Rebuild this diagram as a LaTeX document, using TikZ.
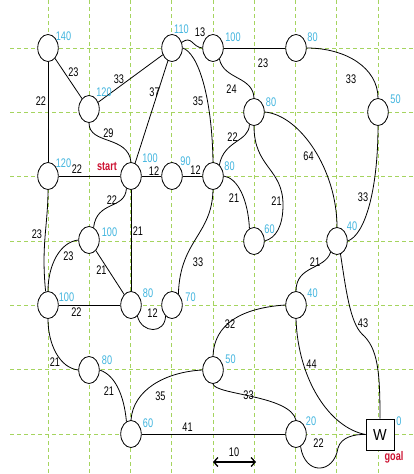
\documentclass[tikz,border=0pt]{standalone}
\usepackage{fontspec}
\setmainfont{Liberation Sans}[FakeStretch=0.73]
\newfontfamily\wfont{Liberation Sans}[FakeStretch=0.9]
\usetikzlibrary{shapes.geometric,arrows.meta}
\definecolor{gridgreen}{RGB}{165,212,95}
\definecolor{valcyan}{RGB}{64,180,222}
\definecolor{markred}{RGB}{204,16,48}
\begin{document}
\begin{tikzpicture}[x=1pt,y=-1pt,
  gridline/.style={draw=gridgreen, line width=0.9pt, dash pattern=on 4pt off 3pt},
  vtx/.style={draw, ellipse, minimum width=20.5pt, minimum height=27pt, inner sep=0pt, fill=white, line width=0.8pt},
  goalbox/.style={draw, rectangle, minimum width=28pt, minimum height=31pt, inner sep=0pt, fill=white, line width=0.8pt, font=\wfont\fontsize{16}{18}\selectfont},
  edge/.style={draw, line width=0.8pt},
  wlbl/.style={font=\fontsize{12.5}{15}\selectfont, inner sep=0pt, text=black},
  vlbl/.style={font=\fontsize{12.5}{15}\selectfont, inner sep=0pt, text=valcyan},
  rlbl/.style={font=\bfseries\fontsize{12.5}{15}\selectfont, inner sep=0pt, text=markred},
  scalebar/.style={draw, line width=1.3pt, {Straight Barb[length=4pt,width=9pt]}-{Straight Barb[length=4pt,width=9pt]}}
]
\useasboundingbox (0,0) rectangle (414,474);
% grid
\foreach \i in {0,...,8} \draw[gridline] ({48+41.25*\i},0) -- ({48+41.25*\i},474);
\foreach \j in {0,...,6} \draw[gridline] (10,{48+64.33*\j}) -- (414,{48+64.33*\j});

% vertices
\node[vtx] (n140) at (48,48) {};
\node[vtx] (n120u) at (89,109) {};
\node[vtx] (n110) at (172,48) {};
\node[vtx] (n100t) at (213,48) {};
\node[vtx] (n80t) at (296,48) {};
\node[vtx] (n50) at (378,112) {};
\node[vtx] (n80a) at (254,112) {};
\node[vtx] (n120l) at (48,176) {};
\node[vtx] (start) at (131,176) {};
\node[vtx] (n90) at (172,176) {};
\node[vtx] (n80r) at (213,176) {};
\node[vtx] (n60) at (254,241) {};
\node[vtx] (n40a) at (337,241) {};
\node[vtx] (n100m) at (89,240) {};
\node[vtx] (n100l) at (48,305) {};
\node[vtx] (n80b) at (131,305) {};
\node[vtx] (n70) at (172,305) {};
\node[vtx] (n40b) at (296,305) {};
\node[vtx] (n80c) at (89,370) {};
\node[vtx] (n50b) at (213,370) {};
\node[vtx] (n60b) at (131,434) {};
\node[vtx] (n20) at (296,434) {};
\node[goalbox] (W) at (380,434.5) {W};

% straight edges
\draw[edge] (n140) -- (n120l);
\draw[edge] (n140) -- (n120u);
\draw[edge] (n120u) -- (n110);
\draw[edge] (n110) -- (start);
\draw[edge] (n100t) -- (n80t);
\draw[edge] (n120l) -- (start);
\draw[edge] (start) -- (n90);
\draw[edge] (n90) -- (n80r);
\draw[edge] (start) -- (n80b);
\draw[edge] (n100m) -- (n80b);
\draw[edge] (n100l) -- (n80b);
\draw[edge] (n60b) -- (n20);

% curved edges
\draw[edge] (n120u.south) .. controls (89,145) and (128,135) .. (start.north);
\draw[edge] (n110.east) .. controls (198,53) and (212,96) .. (n80r.north);
\draw[edge] (n110.30) .. controls (192,35) and (192,47) .. (n100t.west);
\draw[edge] (n100t.-60) .. controls (224,80) and (253,76) .. (n80a.north);
\draw[edge] (n80t.east) .. controls (346,48) and (378,68) .. (n50.north);
\draw[edge] (n80a.-110) .. controls (249,142) and (224,140) .. (n80r.60);
\draw[edge] (n80a.east) .. controls (300,115) and (337,170) .. (n40a.north);
\draw[edge] (n80a.south) .. controls (254,168) and (283,168) .. (283,205) .. controls (283,226) and (276,238) .. (n60.east);
\draw[edge] (n80r.east) .. controls (238,178) and (248,200) .. (n60.110);
\draw[edge] (n50.south) .. controls (378,190) and (365,235) .. (n40a.east);
\draw[edge] (n40a.-120) .. controls (325,270) and (296,265) .. (n40b.north);
\draw[edge] (n40a.-75) .. controls (346,290) and (350,322) .. (362,334) .. controls (378,348) and (380,372) .. (W.north);
\draw[edge] (n40b.west) .. controls (240,308) and (214,325) .. (n50b.north);
\draw[edge] (n40b.south) .. controls (298,380) and (330,428) .. (W.west);
\draw[edge] (n50b.west) .. controls (165,372) and (133,390) .. (n60b.north);
\draw[edge] (n50b.south) .. controls (215,395) and (290,395) .. (n20.north);
\draw[edge] (n20.-70) .. controls (305,476) and (334,474) .. (338,448) .. controls (341,437) and (355,434) .. (W.west);
\draw[edge] (start.-110) .. controls (125,210) and (97,200) .. (n100m.70);
\draw[edge] (n80r.south) .. controls (212,235) and (180,240) .. (n70.60);
\draw[edge] (n120l.south) .. controls (48,225) and (41,245) .. (n100l.100);
\draw[edge] (n100m.west) .. controls (60,242) and (48,265) .. (n100l.north);
\draw[edge] (n80b.-60) .. controls (142,334) and (165,334) .. (n70.-120);
\draw[edge] (n100l.south) .. controls (48,345) and (60,368) .. (n80c.west);
\draw[edge] (n80c.east) .. controls (115,375) and (124,395) .. (n60b.110);

% value labels
\node[vlbl] (v140) at (63.5,36.5) {140};
\node[vlbl] (v120u) at (104,92.5) {120};
\node[vlbl] (v110) at (181.5,29) {110};
\node[vlbl] (v100t) at (233,37.5) {100};
\node[vlbl] (v80t) at (312.5,37) {80};
\node[vlbl] (v50) at (395.5,99.5) {50};
\node[vlbl] (v80a) at (271,102.5) {80};
\node[vlbl] (v120l) at (63.5,163.5) {120};
\node[vlbl] (vstart) at (150,158.5) {100};
\node[vlbl] (v90) at (185.5,161) {90};
\node[vlbl] (v80r) at (229.5,166.5) {80};
\node[vlbl] (v60) at (269.5,229) {60};
\node[vlbl] (v40a) at (352,226.5) {40};
\node[vlbl] (v100m) at (109.5,232.5) {100};
\node[vlbl] (v100l) at (66.5,297) {100};
\node[vlbl] (v80b) at (148,293) {80};
\node[vlbl] (v70) at (190.5,297) {70};
\node[vlbl] (v40b) at (312.5,293) {40};
\node[vlbl] (v80c) at (107,360.5) {80};
\node[vlbl] (v60b) at (148,423.5) {60};
\node[vlbl] (v50b) at (230.5,359.5) {50};
\node[vlbl] (v20) at (311,421) {20};
\node[vlbl] (vW) at (399,421) {0};
\node[rlbl] (lstart) at (107,166.5) {start};
\node[rlbl] (lgoal) at (394,457) {goal};

% weight labels
\node[wlbl] (w1) at (41,101.5) {22};
\node[wlbl] (w2) at (73.5,72.5) {23};
\node[wlbl] (w3) at (119,79.5) {33};
\node[wlbl] (w4) at (154.5,92.5) {37};
\node[wlbl] (w5) at (198,101) {35};
\node[wlbl] (w6) at (108.5,133) {29};
\node[wlbl] (w7) at (200,32) {13};
\node[wlbl] (w8) at (263,63.5) {23};
\node[wlbl] (w9) at (231.5,89) {24};
\node[wlbl] (w10) at (351,79.5) {33};
\node[wlbl] (w11) at (232.5,137.5) {22};
\node[wlbl] (w12) at (308.5,156) {64};
\node[wlbl] (w13) at (77,169.5) {22};
\node[wlbl] (w14) at (154,171.5) {12};
\node[wlbl] (w15) at (195.5,170.5) {12};
\node[wlbl] (w16) at (234,198) {21};
\node[wlbl] (w17) at (276.5,201.5) {21};
\node[wlbl] (w18) at (363,197) {33};
\node[wlbl] (w19) at (315,262.5) {21};
\node[wlbl] (w20) at (112,200.5) {22};
\node[wlbl] (w21) at (138,231.5) {21};
\node[wlbl] (w22) at (37,234.5) {23};
\node[wlbl] (w23) at (68.5,256.5) {23};
\node[wlbl] (w24) at (101.5,270) {21};
\node[wlbl] (w25) at (198,262.5) {33};
\node[wlbl] (w26) at (76.5,312.5) {22};
\node[wlbl] (w27) at (152.5,313.5) {12};
\node[wlbl] (w28) at (55,362.5) {21};
\node[wlbl] (w29) at (109,391.5) {21};
\node[wlbl] (w30) at (160.5,396) {35};
\node[wlbl] (w31) at (187.5,427.5) {41};
\node[wlbl] (w32) at (230,324) {32};
\node[wlbl] (w33) at (363,323.5) {43};
\node[wlbl] (w34) at (311.5,364.5) {44};
\node[wlbl] (w35) at (248.5,395.5) {33};
\node[wlbl] (w36) at (318.5,443) {22};

% scale bar
\coordinate (sbL) at (213,462);
\coordinate (sbR) at (256,462);
\draw[scalebar] (sbL) -- (sbR);
\node[wlbl] (w10s) at (234,452.5) {10};
\end{tikzpicture}
\end{document}
